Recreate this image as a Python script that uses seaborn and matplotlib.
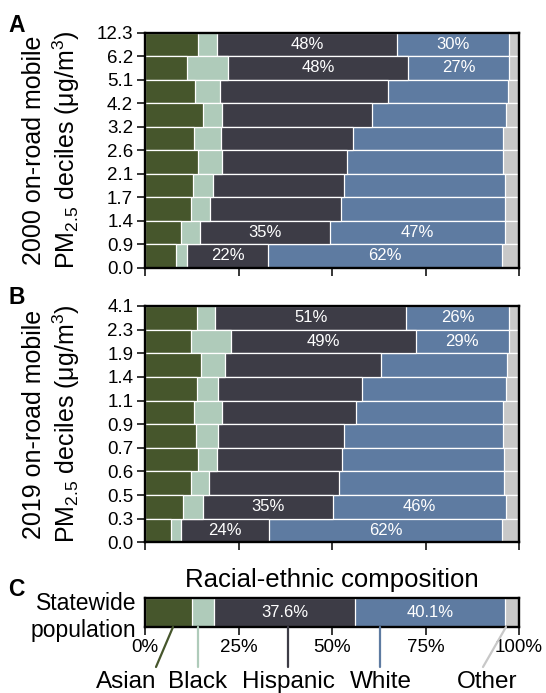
import numpy as np
import pandas as pd
import matplotlib
matplotlib.use("Agg")
import matplotlib.pyplot as plt
from matplotlib.lines import Line2D
import seaborn as sns

groups = ["Asian", "Black", "Hispanic", "White", "Other"]
colors = ["#46562c", "#afcbba", "#3d3c46", "#5e7ba1", "#c8c8c8"]

# decile boundaries, top to bottom
ticks_2000 = ["12.3", "6.2", "5.1", "4.2", "3.2", "2.6", "2.1", "1.7", "1.4", "0.9", "0.0"]
ticks_2019 = ["4.1", "2.3", "1.9", "1.4", "1.1", "0.9", "0.7", "0.6", "0.5", "0.3", "0.0"]
rows = ["D10", "D9", "D8", "D7", "D6", "D5", "D4", "D3", "D2", "D1"]

# shares (%) per decile, highest decile first
asian_2000 = [14.2, 11.3, 13.5, 15.6, 13.0, 14.2, 12.9, 12.2, 9.6, 8.2]
black_2000 = [5.1, 11.0, 6.5, 5.1, 7.2, 6.4, 5.2, 5.2, 5.1, 2.9]
hisp_2000 = [48.0, 48.1, 45.1, 39.9, 35.5, 33.3, 35.2, 35.0, 34.7, 21.9]
white_2000 = [30.0, 26.9, 32.0, 36.0, 40.1, 41.9, 42.9, 43.8, 46.9, 62.4]
other_2000 = [2.7, 2.7, 2.9, 3.4, 4.2, 4.2, 3.8, 3.8, 3.7, 4.6]

asian_2019 = [13.8, 12.4, 15.1, 14.0, 13.1, 13.6, 14.1, 12.4, 10.2, 7.0]
black_2019 = [5.0, 10.6, 6.2, 5.5, 7.5, 6.0, 5.1, 4.7, 5.2, 2.5]
hisp_2019 = [51.0, 49.4, 41.7, 38.6, 35.8, 33.5, 33.6, 34.8, 34.8, 23.6]
white_2019 = [27.5, 24.9, 33.9, 38.3, 39.4, 42.7, 43.3, 44.2, 46.2, 62.4]
other_2019 = [2.7, 2.7, 3.1, 3.6, 4.2, 4.2, 3.9, 3.9, 3.6, 4.5]

# labels printed on the bars
hisp_lab_2000 = ["48%", "48%", "", "", "", "", "", "", "35%", "22%"]
white_lab_2000 = ["30%", "27%", "", "", "", "", "", "", "47%", "62%"]
hisp_lab_2019 = ["51%", "49%", "", "", "", "", "", "", "35%", "24%"]
white_lab_2019 = ["26%", "29%", "", "", "", "", "", "", "46%", "62%"]

state_row = ["Statewide\npopulation"]
state_shares = [[12.7], [5.8], [37.6], [40.1], [3.8]]
state_hisp_lab = ["37.6%"]
state_white_lab = ["40.1%"]

sns.set_style("ticks")
plt.rcParams["font.family"] = ["Liberation Sans", "DejaVu Sans"]
plt.rcParams["mathtext.fontset"] = "custom"
plt.rcParams["mathtext.rm"] = "Liberation Sans"
plt.rcParams["mathtext.it"] = "Liberation Sans:italic"
plt.rcParams["mathtext.bf"] = "Liberation Sans:bold"
for key in ("text.color", "axes.labelcolor", "xtick.color", "ytick.color", "axes.edgecolor"):
    plt.rcParams[key] = "black"

W, H = 546, 693
fig = plt.figure(figsize=(W / 100, H / 100), dpi=100)


def px_axes(left, top, right, bottom):
    return fig.add_axes([left / W, 1 - bottom / H, (right - left) / W, (bottom - top) / H])


def draw_stack(ax, shares, names, hisp_lab, white_lab):
    shares = np.array(shares)
    cum = np.cumsum(shares, axis=0)
    for k in range(len(groups) - 1, -1, -1):
        df = pd.DataFrame({"row": names, "cum": cum[k]})
        sns.barplot(data=df, x="cum", y="row", orient="h", color=colors[k],
                    saturation=1, width=1, edgecolor="white", linewidth=0.9,
                    errorbar=None, ax=ax)
    for k, labs in ((2, hisp_lab), (3, white_lab)):
        for i, lab in enumerate(labs):
            if lab:
                mid = cum[k][i] - shares[k][i] / 2
                ax.text(mid, i, lab, color="white", ha="center", va="center",
                        fontsize=12)
    ax.set_xlim(0, 100)
    ax.set_ylim(len(names) - 0.5, -0.5)
    ax.set_xlabel("")
    ax.set_ylabel("")
    for s in ax.spines.values():
        s.set_linewidth(1.7)
        s.set_color("black")
    ax.tick_params(direction="out", length=5.5, width=1.1, labelsize=13.5, pad=3,
                   color="black", labelcolor="black")


# panel A
ax_a = px_axes(145, 32.7, 519, 267.7)
draw_stack(ax_a, [asian_2000, black_2000, hisp_2000, white_2000, other_2000],
           rows, hisp_lab_2000, white_lab_2000)
ax_a.set_yticks(np.arange(-0.5, 10, 1))
ax_a.set_yticklabels(ticks_2000)
ax_a.set_xticks([0, 25, 50, 75, 100])
ax_a.set_xticklabels([])

# panel B
ax_b = px_axes(145, 306, 519, 542.3)
draw_stack(ax_b, [asian_2019, black_2019, hisp_2019, white_2019, other_2019],
           rows, hisp_lab_2019, white_lab_2019)
ax_b.set_yticks(np.arange(-0.5, 10, 1))
ax_b.set_yticklabels(ticks_2019)
ax_b.set_xticks([0, 25, 50, 75, 100])
ax_b.set_xticklabels([])

# panel C
ax_c = px_axes(145, 598.3, 519, 626.7)
draw_stack(ax_c, state_shares, state_row, state_hisp_lab, state_white_lab)
ax_c.set_xticks([0, 25, 50, 75, 100])
ax_c.set_xticklabels(["0%", "25%", "50%", "75%", "100%"])
ax_c.tick_params(axis="y", length=0, labelsize=16.5, pad=6)
ax_c.set_title("Racial-ethnic composition", fontsize=18.5, pad=8, color="black")

# y labels
fig.text(52 / W, 1 - 150 / H, "2000 on-road mobile\nPM$_{2.5}$ deciles (μg/m$^3$)",
         rotation=90, ha="center", va="center", multialignment="center", fontsize=18)
fig.text(52 / W, 1 - 424 / H, "2019 on-road mobile\nPM$_{2.5}$ deciles (μg/m$^3$)",
         rotation=90, ha="center", va="center", multialignment="center", fontsize=18)

# panel letters
for letter, y in (("A", 25), ("B", 297.5), ("C", 589.5)):
    fig.text(8 / W, 1 - y / H, letter, fontsize=16.5, fontweight="bold",
             ha="left", va="center")

# legend: leader lines and group names below panel C
leaders = [(173, 156), (198, 198), (288, 288), (380, 380), (506, 483)]
label_x = [126, 198, 288, 381, 487]
for k, g in enumerate(groups):
    x0, x1 = leaders[k]
    fig.add_artist(Line2D([x0 / W, x1 / W], [1 - 627 / H, 1 - 667 / H],
                          transform=fig.transFigure, color=colors[k], lw=1.6))
    fig.text(label_x[k] / W, 1 - 682 / H, g, ha="center", va="center", fontsize=17.5)

fig.savefig("out.png", dpi=100)
